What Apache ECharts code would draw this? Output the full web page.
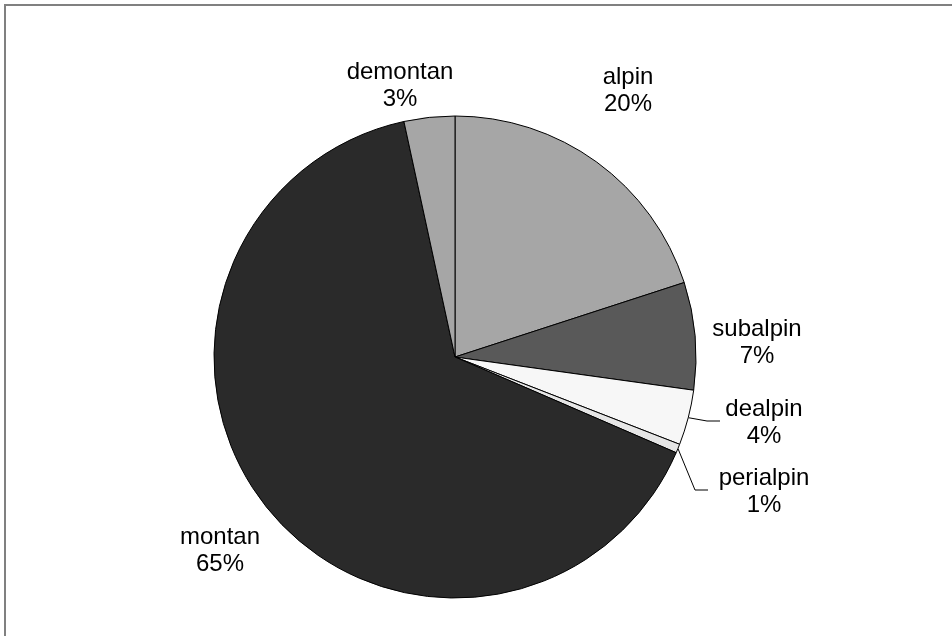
<!DOCTYPE html>
<html>
<head>
<meta charset="utf-8">
<script src="https://cdn.jsdelivr.net/npm/echarts@6/dist/echarts.min.js"></script>
<style>
  html, body { margin: 0; padding: 0; background: #fff; }
  #chart { width: 952px; height: 636px; }
</style>
</head>
<body>
<div id="chart"></div>
<script>
// Altitudinal distribution shares (percent)
const categories = ['alpin', 'subalpin', 'dealpin', 'perialpin', 'montan', 'demontan'];
const shares = [20.0, 7.2, 3.7, 0.6, 65.1, 3.4];
const sliceColors = ['#a6a6a6', '#595959', '#f7f7f7', '#e6e6e6', '#2a2a2a', '#a6a6a6'];

// Label anchors (block centres) and leader line bends, per category
const labelSpots = {
  alpin:     { x: 628, y: 91 },
  subalpin:  { x: 757, y: 343 },
  dealpin:   { x: 764, y: 423, bend: [[707, 421], [720, 421]] },
  perialpin: { x: 764, y: 492, bend: [[695, 490], [708, 490]] },
  montan:    { x: 220, y: 551 },
  demontan:  { x: 400, y: 86 }
};

const chart = echarts.init(document.getElementById('chart'), null, { renderer: 'canvas' });

chart.setOption({
  backgroundColor: '#ffffff',
  animation: false,
  graphic: [{
    type: 'rect',
    shape: { x: 5, y: 5, width: 1000, height: 1000 },
    style: { fill: 'none', stroke: '#808080', lineWidth: 2 },
    silent: true
  }],
  series: [{
    type: 'pie',
    center: [455, 357],
    radius: 241,
    startAngle: 90,
    clockwise: true,
    percentPrecision: 0,
    avoidLabelOverlap: false,
    itemStyle: { borderColor: '#000', borderWidth: 1 },
    label: {
      show: true,
      position: 'outside',
      formatter: '{b}\n{d}%',
      fontFamily: 'Liberation Sans, Arial, sans-serif',
      fontSize: 24,
      lineHeight: 27,
      color: '#000',
      align: 'center'
    },
    labelLine: {
      show: true,
      length: 10,
      length2: 10,
      smooth: false,
      lineStyle: { color: '#000', width: 1 }
    },
    labelLayout: function (params) {
      const name = categories[params.dataIndex];
      const spot = labelSpots[name];
      const out = {
        x: spot.x,
        y: spot.y,
        align: 'center',
        verticalAlign: 'middle'
      };
      if (spot.bend && params.labelLinePoints) {
        out.labelLinePoints = [params.labelLinePoints[0], spot.bend[0], spot.bend[1]];
      }
      return out;
    },
    data: categories.map(function (name, i) {
      const spot = labelSpots[name];
      return {
        name: name,
        value: shares[i],
        itemStyle: { color: sliceColors[i] },
        labelLine: { show: !!spot.bend }
      };
    })
  }]
});
</script>
</body>
</html>
